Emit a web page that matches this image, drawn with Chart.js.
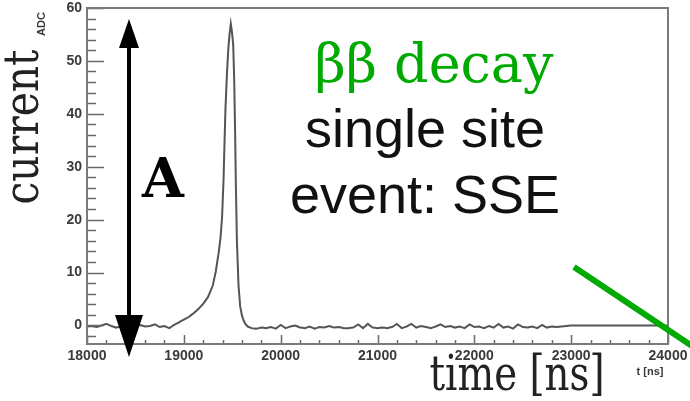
<!DOCTYPE html>
<html>
<head>
<meta charset="utf-8">
<script src="https://cdn.jsdelivr.net/npm/chart.js"></script>
<style>
  html, body { margin: 0; padding: 0; background: #fff; }
  #wrap { width: 690px; height: 401px; }
</style>
</head>
<body>
<div id="wrap"><canvas id="chart" width="690" height="401"></canvas></div>
<script>
    // ▼ waveform samples (time in ns, amplitude in ADC counts)
    const timeNs = [
        18000, 18050, 18100, 18150, 18200, 18250, 18300, 18350, 18400, 18450,
        18500, 18550, 18600, 18650, 18700, 18750, 18800, 18850, 18900, 18950,
        19000, 19050, 19100, 19150, 19200, 19250, 19300, 19330, 19360, 19380,
        19395, 19410, 19420, 19430, 19445, 19460, 19472, 19485, 19497, 19510,
        19520, 19530, 19537, 19548, 19565, 19582, 19600, 19616, 19635, 19660,
        19700, 19750, 19800, 19850, 19900, 19950, 20000, 20050, 20100, 20150,
        20200, 20250, 20300, 20350, 20400, 20450, 20500, 20550, 20600, 20650,
        20700, 20750, 20800, 20850, 20900, 20950, 21000, 21050, 21100, 21150,
        21200, 21250, 21300, 21350, 21400, 21450, 21500, 21550, 21600, 21650,
        21700, 21750, 21800, 21850, 21900, 21950, 22000, 22050, 22100, 22150,
        22200, 22250, 22300, 22350, 22400, 22450, 22500, 22550, 22600, 22650,
        22700, 22750, 22800, 22850, 22900, 22950, 23000, 24000
    ];
    const adcCounts = [
        -0.2, -0.1, -0.3, 0.0, 0.3, -0.1, -0.4, -0.2, 0.1, -0.3,
        -0.2, 0.1, -0.2, -0.1, 0.2, -0.3, -0.1, -0.5, 0.1, 0.6,
        1.1, 1.6, 2.3, 3.1, 4.1, 5.4, 7.6, 10.2, 13.8, 16.8,
        20.5, 27.5, 34.5, 41.0, 47.5, 52.5, 55.0, 57.0, 55.5, 53.0,
        46.5, 36.0, 27.0, 16.0, 7.5, 3.6, 1.9, 1.0, 0.3, -0.2,
        -0.5, -0.6, -0.4, -0.5, -0.3, -0.6, 0.1, -0.5, -0.2, 0.0,
        -0.4, -0.5, -0.2, -0.6, -0.3, -0.4, -0.1, -0.4, -0.3, -0.5,
        -0.5, -0.4, 0.2, -0.5, 0.3, -0.4, -0.5, -0.4, -0.5, -0.3,
        0.3, -0.5, -0.2, 0.3, -0.4, -0.1, -0.3, -0.5, -0.2, 0.2,
        -0.3, -0.1, -0.4, -0.2, -0.5, 0.2, -0.3, -0.2, -0.5, -0.1,
        -0.4, 0.3, -0.4, -0.2, -0.6, 0.2, -0.3, -0.4, -0.2, -0.5,
        0.1, -0.4, -0.2, -0.3, -0.2, -0.1, 0.0, 0.0
    ];

    // ▼ axis ticks
    const xTickValues = [18000, 19000, 20000, 21000, 22000, 23000, 24000];
    const yTickValues = [0, 10, 20, 30, 40, 50, 60];
    const xMinorStep = 200;
    const yMinorStep = 2;

    const tickFont = { family: 'Liberation Sans, Arial, sans-serif', size: 14, weight: 'bold' };

    // ▼ ROOT style frame, inner ticks and the slide annotations
    const decorPlugin = {
        id: 'decor',
        beforeDraw(chart) {
            const ctx = chart.ctx;
            ctx.save();
            ctx.fillStyle = '#fff';
            ctx.fillRect(0, 0, chart.width, chart.height);
            ctx.restore();
        },
        afterDraw(chart) {
            const ctx = chart.ctx;
            const area = chart.chartArea;
            const xs = chart.scales.x;
            const ys = chart.scales.y;
            ctx.save();

            // inner ticks
            ctx.strokeStyle = '#6a6a6a';
            ctx.lineWidth = 1.5;
            ctx.beginPath();
            for (let v = Math.ceil(ys.min / yMinorStep) * yMinorStep; v <= ys.max; v += yMinorStep) {
                const py = Math.round(ys.getPixelForValue(v)) + 0.5;
                const len = v % 10 === 0 ? 17 : 9;
                ctx.moveTo(area.left, py);
                ctx.lineTo(area.left + len, py);
            }
            for (let v = xs.min; v <= xs.max; v += xMinorStep) {
                const px = Math.round(xs.getPixelForValue(v)) + 0.5;
                const len = v % 1000 === 0 ? 9 : 4;
                ctx.moveTo(px, area.bottom);
                ctx.lineTo(px, area.bottom - len);
            }
            ctx.stroke();

            // frame
            ctx.strokeStyle = '#7a7a7a';
            ctx.lineWidth = 2;
            ctx.strokeRect(area.left, area.top, area.right - area.left, area.bottom - area.top);

            // axis unit labels
            ctx.fillStyle = '#3a3a3a';
            ctx.font = 'bold 11px "Liberation Sans", Arial, sans-serif';
            ctx.textAlign = 'center';
            ctx.textBaseline = 'alphabetic';
            ctx.fillText('t [ns]', 650, 375);
            ctx.save();
            ctx.translate(45, 24);
            ctx.rotate(-Math.PI / 2);
            ctx.fillText('ADC', 0, 0, 30);
            ctx.restore();

            // big serif labels
            ctx.fillStyle = '#222';
            ctx.font = '48px "DejaVu Serif", serif';
            ctx.save();
            ctx.translate(38, 127);
            ctx.rotate(-Math.PI / 2);
            ctx.fillText('current', 0, 0, 155);
            ctx.restore();
            ctx.fillText('time [ns]', 517, 390, 175);

            // double arrow
            ctx.fillStyle = '#000';
            ctx.strokeStyle = '#000';
            ctx.lineWidth = 4;
            ctx.beginPath();
            ctx.moveTo(129, 45);
            ctx.lineTo(129, 318);
            ctx.stroke();
            ctx.beginPath();
            ctx.moveTo(129, 19);
            ctx.lineTo(119, 48);
            ctx.lineTo(139, 48);
            ctx.closePath();
            ctx.fill();
            ctx.beginPath();
            ctx.moveTo(129, 357);
            ctx.lineTo(115, 315);
            ctx.lineTo(143, 315);
            ctx.closePath();
            ctx.fill();

            ctx.font = 'bold 54px "DejaVu Serif", serif';
            ctx.fillText('A', 163, 197);

            // green stroke
            ctx.strokeStyle = '#00aa00';
            ctx.lineWidth = 6;
            ctx.beginPath();
            ctx.moveTo(574, 267);
            ctx.lineTo(692, 346);
            ctx.stroke();

            // titles
            ctx.fillStyle = '#00aa00';
            ctx.font = '54px "DejaVu Serif", serif';
            ctx.fillText('\u03b2\u03b2 decay', 434, 82, 245);
            ctx.fillStyle = '#111';
            ctx.font = '54px "Liberation Sans", Arial, sans-serif';
            ctx.fillText('single site', 425, 147);
            ctx.fillText('event: SSE', 425, 213);

            ctx.restore();
        }
    };

    const ctx = document.getElementById('chart').getContext('2d');
    const chart = new Chart(ctx, {
        type: 'line',
        data: {
            datasets: [{
                data: timeNs.map((t, i) => ({ x: t, y: adcCounts[i] })),
                borderColor: '#555',
                borderWidth: 2,
                pointRadius: 0,
                // tiny tension keeps chart.js off its pixel-merging fast path
                tension: 0.0001,
                fill: false
            }]
        },
        options: {
            responsive: false,
            animation: false,
            layout: { padding: { left: 0, right: 22, top: 8, bottom: 0 } },
            plugins: { legend: { display: false }, tooltip: { enabled: false } },
            scales: {
                x: {
                    type: 'linear',
                    min: 18000,
                    max: 24000,
                    grid: { display: false, drawTicks: false },
                    border: { display: false },
                    ticks: {
                        font: tickFont, color: '#3a3a3a', padding: 4, maxRotation: 0, autoSkip: false,
                        callback: v => String(v)
                    },
                    afterBuildTicks: s => { s.ticks = xTickValues.map(v => ({ value: v })); },
                    afterFit: s => { s.height = 57; s.paddingLeft = 0; s.paddingRight = 0; }
                },
                y: {
                    type: 'linear',
                    min: -3.5,
                    max: 60,
                    grid: { display: false, drawTicks: false },
                    border: { display: false },
                    ticks: { font: tickFont, color: '#3a3a3a', padding: 5, callback: v => String(v) },
                    afterBuildTicks: s => { s.ticks = yTickValues.map(v => ({ value: v })); },
                    afterFit: s => { s.width = 87; s.paddingTop = 0; s.paddingBottom = 0; }
                }
            }
        },
        plugins: [decorPlugin]
    });
</script>
</body>
</html>
